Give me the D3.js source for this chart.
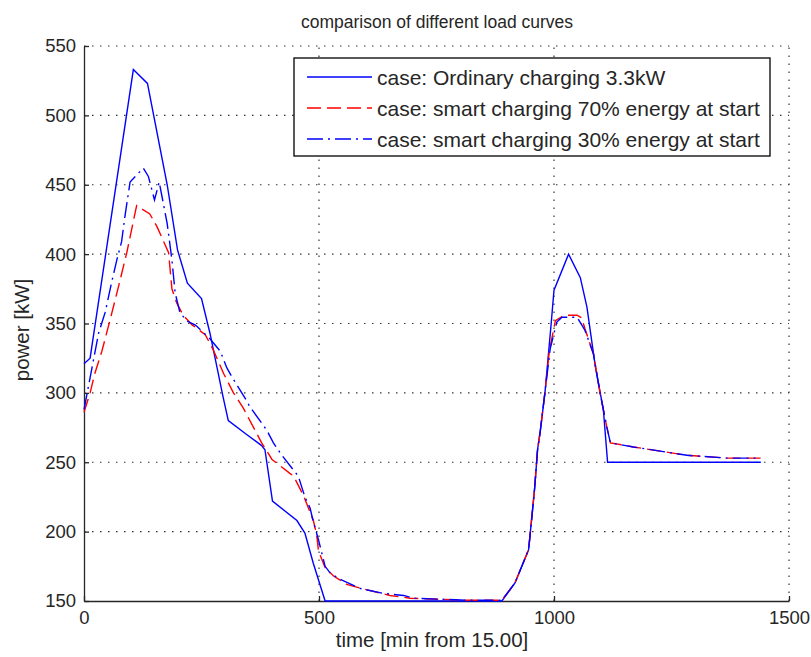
<!DOCTYPE html>
<head>
<meta charset="utf-8">
<title>comparison of different load curves</title>
<style>
  body { margin: 0; padding: 0; background: #fff; font-family: 'Liberation Sans', Arial, sans-serif; }
  .tick text { fill: #262626; font-size: 18.5px; }
  .grid line { stroke: #333; stroke-width: 1.2; stroke-dasharray: 1.5, 6.5; }
  .domain, .tick line { stroke: #262626; stroke-width: 1.3; }
</style>
</head>
<body>
<div id="vis"></div>
<script src="https://cdn.jsdelivr.net/npm/d3@7"></script>
<script>
// time in minutes from 15.00, power in kW
var ordT = [0, 13, 105, 135, 177, 199, 220, 250, 268, 296, 307, 346, 378, 385, 401, 453, 470, 488, 513,
            889, 917, 946, 953, 959, 965, 971, 981, 994, 1000, 1031, 1056, 1070, 1088, 1105, 1114, 1440];
var ordP = [321, 325, 533, 523, 450, 403, 379, 368, 343, 297, 280, 270, 262, 259, 222, 208, 199, 177, 150,
            150, 163, 187, 211, 232, 259, 273, 301, 350, 374, 400, 383, 362, 319, 288, 250, 250];

var s70T = [0, 13, 23, 38, 55, 73, 91, 112, 140, 155, 180, 187, 197, 211, 230, 258, 275, 297, 318, 339, 378, 400,
            438, 446, 467, 488, 495, 499, 513, 531, 559, 602, 651, 694, 820,
            889, 917, 946, 953, 959, 965, 971, 981, 990, 1003, 1017, 1027, 1049, 1059, 1066, 1084, 1098, 1112,
            1120, 1169, 1226, 1283, 1368, 1440];
var s70P = [286, 300, 314, 330, 352, 376, 401, 435, 429, 420, 401, 375, 365, 356, 349, 342, 331, 314, 300, 289, 264, 252,
            242, 240, 226, 208, 198, 186, 174, 168, 162, 158, 154, 152, 150.5,
            150.5, 163, 187, 211, 232, 259, 273, 301, 330, 352, 355, 356, 356, 354, 346, 328, 300, 276,
            264, 261, 258, 255, 253, 253];

var s30T = [0, 31, 45, 59, 70, 80, 87, 98, 126, 137, 150, 160, 177, 187, 194, 204, 218, 236, 240, 268, 290, 304, 314,
            343, 353, 389, 403, 421, 456, 470, 481, 488, 499, 513, 524, 549, 588, 637, 680, 701, 820,
            889, 917, 946, 953, 959, 965, 971, 981, 992, 1006, 1017, 1049, 1059, 1066, 1084, 1098, 1112,
            1120, 1169, 1226, 1283, 1368, 1440];
var s30P = [288, 343, 358, 380, 396, 409, 427, 452, 462, 456, 439, 452, 422, 396, 372, 358, 352, 349, 348, 339, 330, 318, 312,
            296, 290, 273, 264, 255, 240, 225, 217, 207, 194, 175, 170, 165, 159, 155.5, 154, 152, 150.5,
            150.5, 163, 187, 211, 232, 259, 273, 301, 332, 351, 354.5, 354.5, 349, 345, 328, 300, 276,
            264, 261, 258, 255, 253, 253];

var xTicks = [0, 500, 1000, 1500];
var yTicks = [150, 200, 250, 300, 350, 400, 450, 500, 550];

var seriesNames = ["case: Ordinary charging 3.3kW",
                   "case: smart charging 70% energy at start",
                   "case: smart charging 30% energy at start"];

var W = 811, H = 657;
var svg = d3.select("#vis").append("svg").attr("width", W).attr("height", H);

var x = d3.scaleLinear().domain([0, 1500]).range([84, 789]);
var y = d3.scaleLinear().domain([150, 550]).range([601, 46]);

// grid
var grid = svg.append("g").attr("class", "grid");
grid.selectAll(".gx").data(xTicks.slice(1)).enter().append("line")
  .attr("x1", function(d) { return x(d); }).attr("x2", function(d) { return x(d); })
  .attr("y1", y(150)).attr("y2", y(550));
grid.selectAll(".gy").data(yTicks.slice(1)).enter().append("line")
  .attr("y1", function(d) { return y(d); }).attr("y2", function(d) { return y(d); })
  .attr("x1", x(0)).attr("x2", x(1500));

// axes
svg.append("g").attr("transform", "translate(0," + y(150) + ")")
  .call(d3.axisBottom(x).tickValues(xTicks).tickFormat(d3.format("d"))
    .tickSizeInner(-5).tickSizeOuter(0).tickPadding(10));
svg.append("g").attr("transform", "translate(" + x(0) + ",0)")
  .call(d3.axisLeft(y).tickValues(yTicks).tickFormat(d3.format("d"))
    .tickSizeInner(-5).tickSizeOuter(0).tickPadding(8));
svg.selectAll(".tick text").attr("font-size", null).attr("font-family", null);
svg.selectAll("g[font-family]").attr("font-family", null).attr("font-size", null);

// lines
var line = d3.line()
  .x(function(d) { return x(d[0]); })
  .y(function(d) { return y(d[1]); });

var series = [
  { t: ordT, p: ordP, color: "#0000ff", dash: null },
  { t: s70T, p: s70P, color: "#ff0000", dash: "14,6" },
  { t: s30T, p: s30P, color: "#0000ff", dash: "16,5,2,5" }
];

series.forEach(function(s) {
  svg.append("path")
    .datum(d3.zip(s.t, s.p))
    .attr("d", line)
    .attr("fill", "none")
    .attr("stroke", s.color)
    .attr("stroke-width", 1.4)
    .attr("stroke-dasharray", s.dash);
});

// title and labels
svg.append("text").attr("x", 437).attr("y", 28).attr("text-anchor", "middle")
  .attr("font-size", 17.5).attr("fill", "#262626").text("comparison of different load curves");
svg.append("text").attr("x", 432).attr("y", 647).attr("text-anchor", "middle")
  .attr("font-size", 20.5).attr("fill", "#262626").text("time [min from 15.00]");
svg.append("text").attr("transform", "translate(29,330) rotate(-90)").attr("text-anchor", "middle")
  .attr("font-size", 20.5).attr("fill", "#262626").text("power [kW]");

// legend
var leg = svg.append("g");
leg.append("rect").attr("x", 294).attr("y", 58).attr("width", 476).attr("height", 98)
  .attr("fill", "#fff").attr("stroke", "#000").attr("stroke-width", 1.3);
seriesNames.forEach(function(name, i) {
  var ly = 77 + i * 31;
  leg.append("line").attr("x1", 307).attr("x2", 372).attr("y1", ly).attr("y2", ly)
    .attr("stroke", series[i].color).attr("stroke-width", 1.4)
    .attr("stroke-dasharray", series[i].dash);
  leg.append("text").attr("x", 377).attr("y", ly + 7.5).attr("font-size", 21)
    .attr("fill", "#262626").text(name);
});
</script>
</body>
